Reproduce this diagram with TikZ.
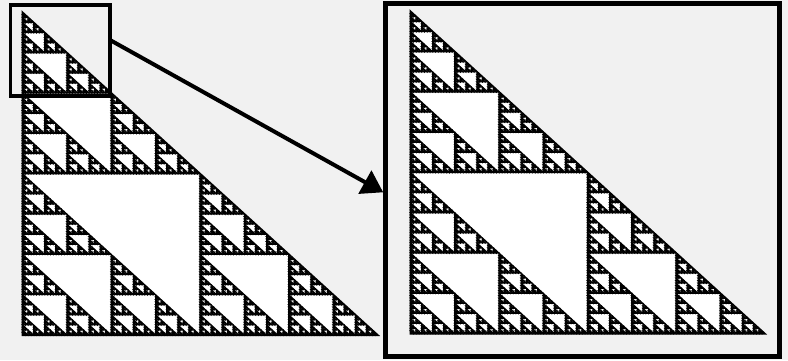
\documentclass[tikz,border=0pt]{standalone}
\usetikzlibrary{arrows.meta}
\definecolor{bg}{RGB}{241,241,241}
\tikzset{
  hole/.style={fill=white,draw=black,line width=1.1pt,line join=miter},
  outertri/.style={fill=black,draw=black,line width=2pt,line join=miter},
  zoomframe/.style={draw=black,fill=none,inner sep=0pt,outer sep=0pt},
  zoomarrow/.style={line width=4pt,-{Triangle[length=21pt,width=26pt]}},
}
% #1 x, #2 y of the right-angle corner (bottom-left), #3 width, #4 height, #5 depth
\newcommand\sierphole[5]{%
  \ifnum#5>0
  \begingroup
    \pgfmathsetmacro\shw{#3/2}%
    \pgfmathsetmacro\shh{#4/2}%
    \pgfmathsetmacro\sxm{#1+\shw}%
    \pgfmathsetmacro\sym{#2-\shh}%
    \path[hole] (#1,\sym) -- (\sxm,\sym) -- (\sxm,#2) -- cycle;
    \pgfmathtruncatemacro\sdd{#5-1}%
    \edef\snext{\noexpand\sierphole{#1}{#2}{\shw}{\shh}{\sdd}%
      \noexpand\sierphole{#1}{\sym}{\shw}{\shh}{\sdd}%
      \noexpand\sierphole{\sxm}{#2}{\shw}{\shh}{\sdd}}%
    \snext
  \endgroup
  \fi}
\begin{document}
\begin{tikzpicture}[x=1pt,y=-1pt]
  \fill[bg] (0,0) rectangle (788,360);
  \useasboundingbox (0,0) rectangle (788,360);
  % left triangle
  \path[outertri] (22.5,335) -- (22.5,12.5) -- (377.5,335) -- cycle;
  \sierphole{22.5}{335}{355}{322.5}{7}
  % right triangle
  \path[outertri] (410.5,333.5) -- (410.5,11.5) -- (764.5,333.5) -- cycle;
  \sierphole{410.5}{333.5}{354}{322}{7}
  % zoom box and frame
  \node[zoomframe,line width=3.5pt,minimum width=99.5pt,minimum height=91pt] (zoombox) at (60.25,50.5) {};
  \node[zoomframe,line width=5pt,minimum width=394pt,minimum height=353.5pt] (bigframe) at (582.5,179.75) {};
  \coordinate (arrowstart) at (110,40);
  \coordinate (arrowend) at (383.2,192.3);
  \draw[zoomarrow] (arrowstart) -- (arrowend);
\end{tikzpicture}
\end{document}
